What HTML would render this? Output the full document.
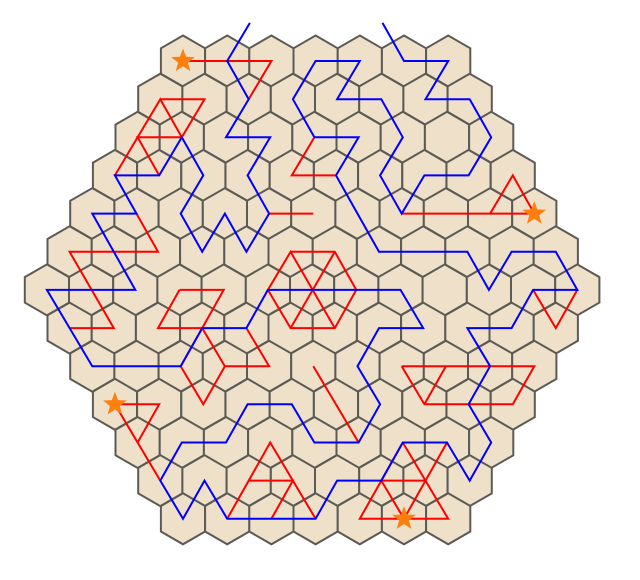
<!DOCTYPE html>
<html><head><meta charset="utf-8"><style>
html,body{margin:0;padding:0;background:#fff;}
svg{display:block;}
</style></head><body>
<svg id="chart" width="640" height="580" viewBox="0 0 640 580" xmlns="http://www.w3.org/2000/svg">
<g id="grid"></g>
<g id="red"></g>
<g id="blue"></g>
<g id="stars"></g>
</svg>
<script>
// lattice coords [k, r]
const bluePath = [[3,-1],[2,0],[3,1],[2,2],[4,2],[3,3],[4,4],[3,5],[2,4],[1,5],[0,4],[1,3],[0,2],[-1,3],[-3,3],[-2,4],[-4,4],[-2,6],[-6,6],[-4,8],[0,8],[1,7],[3,7],[4,6],[10,6],[11,7],[9,7],[8,8],[9,9],[8,10],[6,10],[5,9],[3,9],[2,10],[0,10],[-1,11],[0,12],[1,11],[2,12],[6,12],[7,11],[9,11],[10,10],[12,10],[13,11],[14,10],[13,9],[14,8],[13,7],[15,7],[16,6],[18,6],[17,5],[15,5],[14,6],[13,5],[9,5],[8,4],[7,3],[8,2],[6,2],[5,1],[6,0],[8,0],[7,1],[9,1],[10,2],[9,3],[10,4],[11,3],[13,3],[14,2],[13,1],[11,1],[12,0],[10,0],[9,-1]];
const redPaths = [
 [[0,0],[4,0],[3,1]],
 [[-1,1],[1,1],[0,2],[-1,1],[-3,3]],
 [[0,2],[-2,2],[-1,3]],
 [[-2,4],[-1,5],[-5,5],[-3,7],[-5,7]],
 [[0,6],[2,6],[1,7],[-1,7],[0,6]],
 [[1,7],[2,8],[4,8],[3,7]],
 [[1,7],[0,8],[1,9],[2,8]],
 [[5,5],[7,5],[8,6],[7,7],[5,7],[4,6],[5,5],[7,7]],
 [[7,5],[5,7]],
 [[4,4],[6,4]],
 [[6,2],[5,3],[7,3]],
 [[10,4],[16,4],[15,3],[14,4]],
 [[16,6],[17,7],[18,6]],
 [[10,8],[16,8],[15,9],[11,9],[10,8]],
 [[11,9],[12,8]],
 [[6,8],[8,10]],
 [[10,10],[12,12],[8,12],[10,10]],
 [[12,10],[10,12]],
 [[9,11],[11,11]],
 [[9,11],[10,12]],
 [[-3,9],[-1,9],[-2,10]],
 [[-3,9],[-1,11]],
 [[2,12],[4,10],[6,12]],
 [[3,11],[5,11],[4,12]]
];
const stars = [[0,0],[16,4],[-3,9],[10,12]];
const rowsCount = 13;

const NS="http://www.w3.org/2000/svg";
const X0=183, DX=22.1, Y0=61, DY=38.15, R=25.5;
function rowShift(r){return -3.5*(1-Math.abs(r-6)/6);}
function px(k,r){return X0+DX*k+rowShift(r);}
function py(r){return Y0+DY*r;}
function pts(a){return a.map(p=>px(p[0],p[1]).toFixed(1)+","+py(p[1]).toFixed(1)).join(" ");}

const grid=document.getElementById('grid');
for(let r=0;r<rowsCount;r++){
  const m=Math.min(r,rowsCount-1-r);
  for(let k=-m;k<=12+m;k+=2){
    const cx=px(k,r), cy=py(r);
    let s=[];
    for(let i=0;i<6;i++){const a=Math.PI/180*(60*i-90);s.push((cx+R*Math.cos(a)).toFixed(1)+","+(cy+R*Math.sin(a)).toFixed(1));}
    const h=document.createElementNS(NS,'polygon');
    h.setAttribute('points',s.join(" "));
    h.setAttribute('fill','#efe1c9');
    h.setAttribute('stroke','#5c5a55');
    h.setAttribute('stroke-width','2');
    
    
    grid.appendChild(h);
  }
}
const red=document.getElementById('red');
redPaths.forEach(p=>{
  const l=document.createElementNS(NS,'polyline');
  l.setAttribute('points',pts(p));
  l.setAttribute('fill','none');l.setAttribute('stroke','#ff0000');l.setAttribute('stroke-width','2');
  
  
  red.appendChild(l);
});
const blue=document.getElementById('blue');
const bl=document.createElementNS(NS,'polyline');
bl.setAttribute('points',pts(bluePath));
bl.setAttribute('fill','none');bl.setAttribute('stroke','#0000ff');bl.setAttribute('stroke-width','2');


blue.appendChild(bl);
const sg=document.getElementById('stars');
stars.forEach(s=>{
  const cx=px(s[0],s[1]), cy=py(s[1]);let a=[];
  for(let i=0;i<10;i++){const rr=i%2?5.2:12.5;const ang=Math.PI/180*(-90+36*i);a.push((cx+rr*Math.cos(ang)).toFixed(1)+","+(cy+rr*Math.sin(ang)).toFixed(1));}
  const st=document.createElementNS(NS,'polygon');
  st.setAttribute('points',a.join(" "));
  st.setAttribute('fill','#ff7f0e');
  
  
  sg.appendChild(st);
});
</script>
</body></html>
